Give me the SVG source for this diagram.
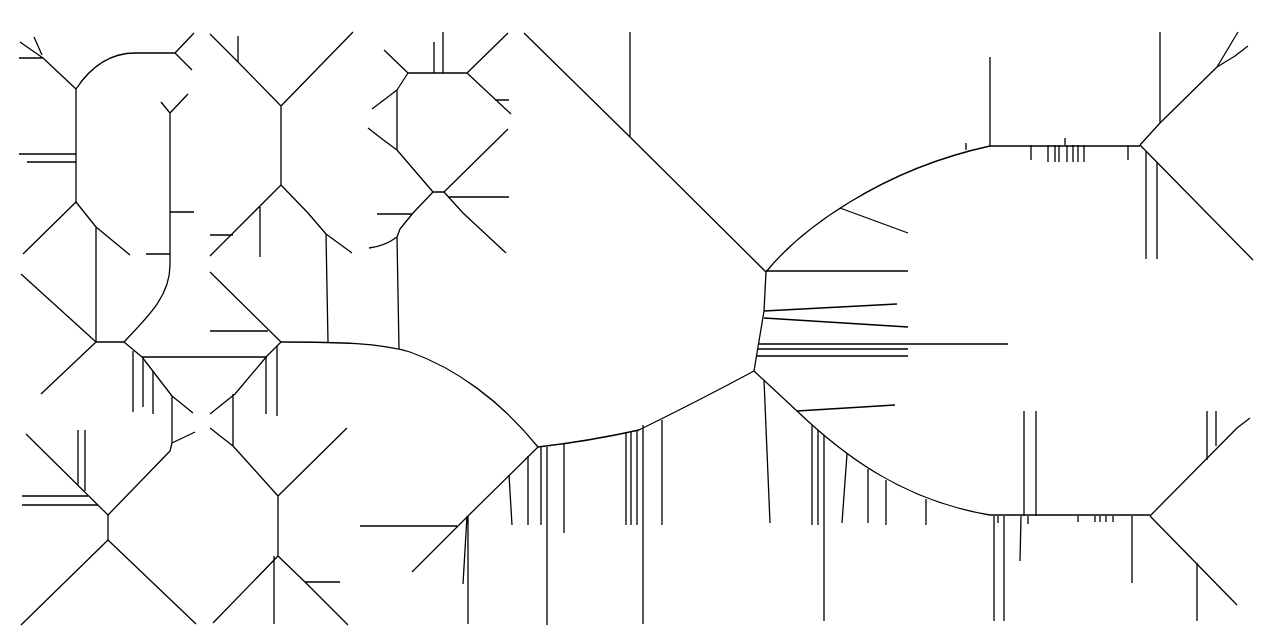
<svg xmlns="http://www.w3.org/2000/svg" width="1275" height="642" viewBox="0 0 1275 642">
<style>
.s{fill:none;stroke:#000;stroke-width:1.3;stroke-linejoin:round}
</style>
<rect width="1275" height="642" fill="#fff"/>
<g id="left-column" class="s">
<path d="M20,42 L43,58 L76,89 M34,37 L42,55 M19,58 H43"/>
<path d="M76,89 C90,68 110,53 135,53 H175 M194,33 L175,53 L192,70"/>
<path d="M76,89 V202 M19,154 H76 M27,162 H76"/>
<path d="M23,254 L76,202 L96,227 L130,255 M96,227 L96,342"/>
<path d="M21,274 L96,342 L41,394 M96,342 H124"/>
<path d="M124,342 C150,315 170,295 170,265 V113 M161,102 L170,113 L188,94 M170,212 H194 M146,254 H170"/>
<path d="M124,342 L142,357 L172,396 L193,413 M172,396 V443 L195,432 M172,443 L170,451 L108,515"/>
<path d="M142,357 H267 M133,351 V412 M143,357 V407 M153,371 V414"/>
<path d="M26,434 L108,515 V540 M21,625 L108,540 L196,624"/>
<path d="M78,430 V485 M85,430 V491 M22,496 H88 M22,505 H98"/>
</g>
<g id="second-column" class="s">
<path d="M210,34 L238,62 L281,106 M238,36 V62 M281,106 L353,32 M281,106 V185"/>
<path d="M281,185 L210,256 M210,235 H233 M260,207 V257"/>
<path d="M281,185 L308,213 L326,234 L352,253 M326,234 L328,342"/>
<path d="M210,272 L281,342 M210,331 H268"/>
<path d="M281,342 L267,356 L235,394 L210,414 M233,394 V446 L278,496 M210,428 L233,446"/>
<path d="M266,356 V414 M277,346 V416"/>
<path d="M278,496 L347,428 M278,496 V556 M213,623 L278,556 L305,582 L348,625 M274,556 V624 M305,582 H340"/>
</g>
<g id="hexagon" class="s">
<path d="M408,73 H467 M434,42 V73 M443,32 V73 M384,50 L408,73 M467,73 L508,33 M467,73 L511,114 M495,100 H509"/>
<path d="M408,73 L397,90 V150 M397,90 L372,109 M368,128 Q383,140 397,150 L433,192 H444 L508,129 M448,197 H509"/>
<path d="M444,192 L463,213 L506,253 M433,192 L413,213 L400,229 L397,237 M377,214 H412 M397,237 Q385,246 369,248 M397,237 L399,349"/>
</g>
<g id="middle" class="s">
<path d="M281,342 C340,342 380,343 410,352 C455,368 500,400 538,447"/>
<path d="M524,33 L630,137 L766,272 M630,32 V137"/>
<path d="M766,272 C800,230 880,170 990,146 H1140 M840,208 L908,233"/>
<path d="M766,271 H908 M764,311 L897,304 M764,318 L908,327 M759,344 H1008 M758,349 H908 M757,356 H908"/>
<path d="M766,272 L764,311 L758,347 L754,371"/>
<path d="M754,371 Q700,400 639,430 Q590,441 538,447"/>
<path d="M754,371 L797,411 C840,452 900,500 990,515 H1150 M797,411 L895,405 M764,380 L770,523"/>
<path d="M643,425 V624 M662,420 V525 M626,432 V525 M631,431 V525 M637,430 V525 M528,456 V525 M541,447 V525 M547,447 V625 M564,444 V533 M509,475 L512,525"/>
<path d="M812,425 V525 M818,430 V525 M824,435 V621 M847,454 L842,523 M868,469 V523 M886,480 V525 M926,499 V525"/>
<path d="M538,447 L468,516 L412,572 M360,526 H457 M468,516 V624 M467,516 L463,584"/>
</g>
<g id="right" class="s">
<path d="M990,146 V57 M1140,145 L1160,123 L1217,67 L1238,32 M1217,67 L1235,56 L1248,46 M1160,123 V32 M1140,145 L1253,260 M1146,151 V259 M1157,162 V259"/>
<path d="M1031,145 V160 M1048,145 V162 M1055,145 V162 M1059,145 V162 M1067,145 V162 M1073,145 V162 M1078,145 V162 M1084,145 V162 M1128,145 V160 M1065,138 V145 M966,143 V150"/>
<path d="M1150,516 L1237,428 L1250,418 M1150,516 L1237,605"/>
<path d="M994,516 V621 M1004,516 V621 M1021,516 L1020,561 M1132,516 V583 M1197,563 V621 M1024,411 V516 M1036,411 V516 M1207,411 V460 M1216,411 V446"/>
<path d="M998,516 V523 M1028,516 V524 M1078,516 V522 M1095,516 V522 M1100,516 V522 M1106,516 V522 M1113,516 V522"/>
</g>
</svg>
